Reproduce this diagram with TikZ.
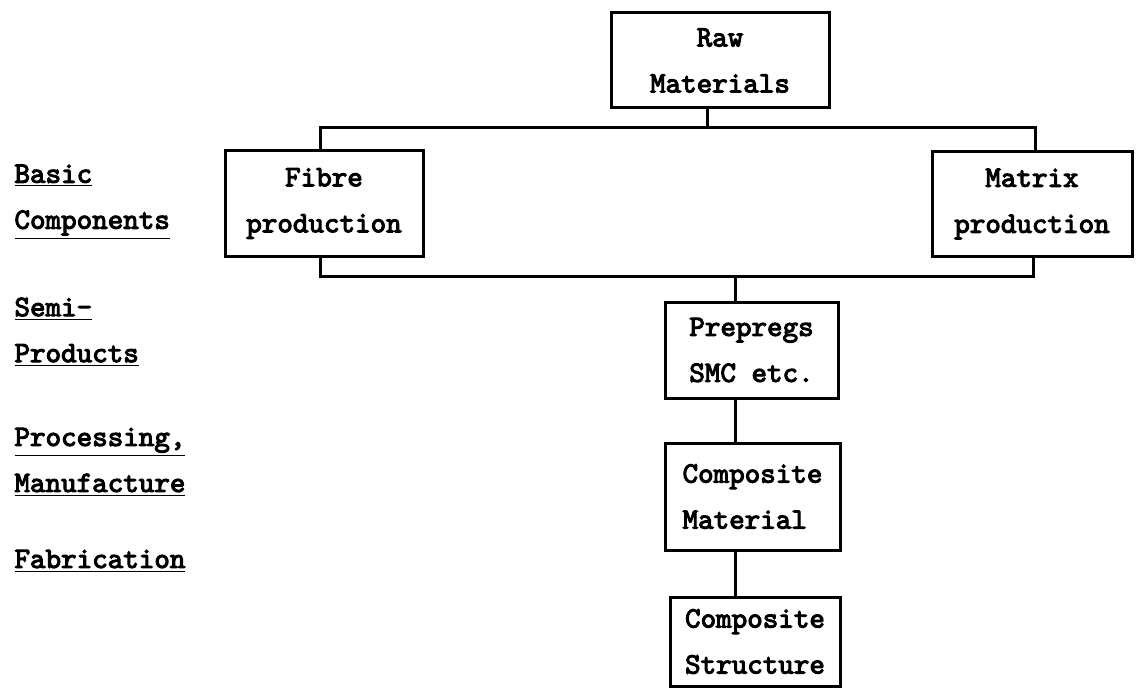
\documentclass[tikz,border=0pt]{standalone}
\usepackage{fontspec}
\setmonofont{lmmono10-regular.otf}[AutoFakeBold=3.5]
\begin{document}
\begin{tikzpicture}
  [x=0.5pt,y=-0.5pt,line width=1.5pt,
   every node/.style={font=\ttfamily\bfseries\fontsize{14.8}{23}\selectfont, inner sep=0pt},
   box/.style={draw, rectangle, align=center},
   stage/.style={anchor=west, align=left}]

 \useasboundingbox (0,0) rectangle (1136,690);

 % boxes
 \node[box, minimum width=109pt, minimum height=47.5pt] (raw) at (720,60.5) {Raw\\Materials};
 \node[box, minimum width=99pt, minimum height=52.5pt] (fibre) at (324,203.5) {Fibre\\production};
 \node[box, minimum width=100pt, minimum height=52pt] (matrix) at (1032,204) {Matrix\\production};
 \node[box, minimum width=86.5pt, minimum height=48pt] (prepreg) at (751.5,350) {Prepregs\\SMC etc.};
 \node[box, align=left, minimum width=87.5pt, minimum height=53.5pt] (material) at (752.5,496.5) {Composite\\Material};
 \node[box, minimum width=85pt, minimum height=44.5pt] (structure) at (755,641.5) {Composite\\Structure};

 % stage labels
 \node[stage] (basic) at (13,202) {\underline{Basic}\\\underline{Components}};
 \node[stage] (semi) at (13,332) {\underline{Semi-}\\\underline{Products}};
 \node[stage] (proc) at (13,462) {\underline{Processing,}\\\underline{Manufacture}};
 \node[stage] (fab) at (13,561) {\underline{Fabrication}};

 % branch points
 \coordinate (split) at (707,128);
 \coordinate (splitL) at (320,128);
 \coordinate (splitR) at (1035,128);
 \coordinate (joinL) at (320,276);
 \coordinate (joinR) at (1033,276);
 \coordinate (join) at (735,276);

 \draw (raw.south -| split) -- (split);
 \draw (fibre.north -| splitL) -- (splitL) -- (splitR) -- (matrix.north -| splitR);
 \draw (fibre.south -| joinL) -- (joinL) -- (joinR) -- (matrix.south -| joinR);

 \foreach \from/\to in {join/prepreg, prepreg/material, material/structure}
   \draw (\from.south -| join) -- (\to.north -| join);

\end{tikzpicture}
\end{document}
